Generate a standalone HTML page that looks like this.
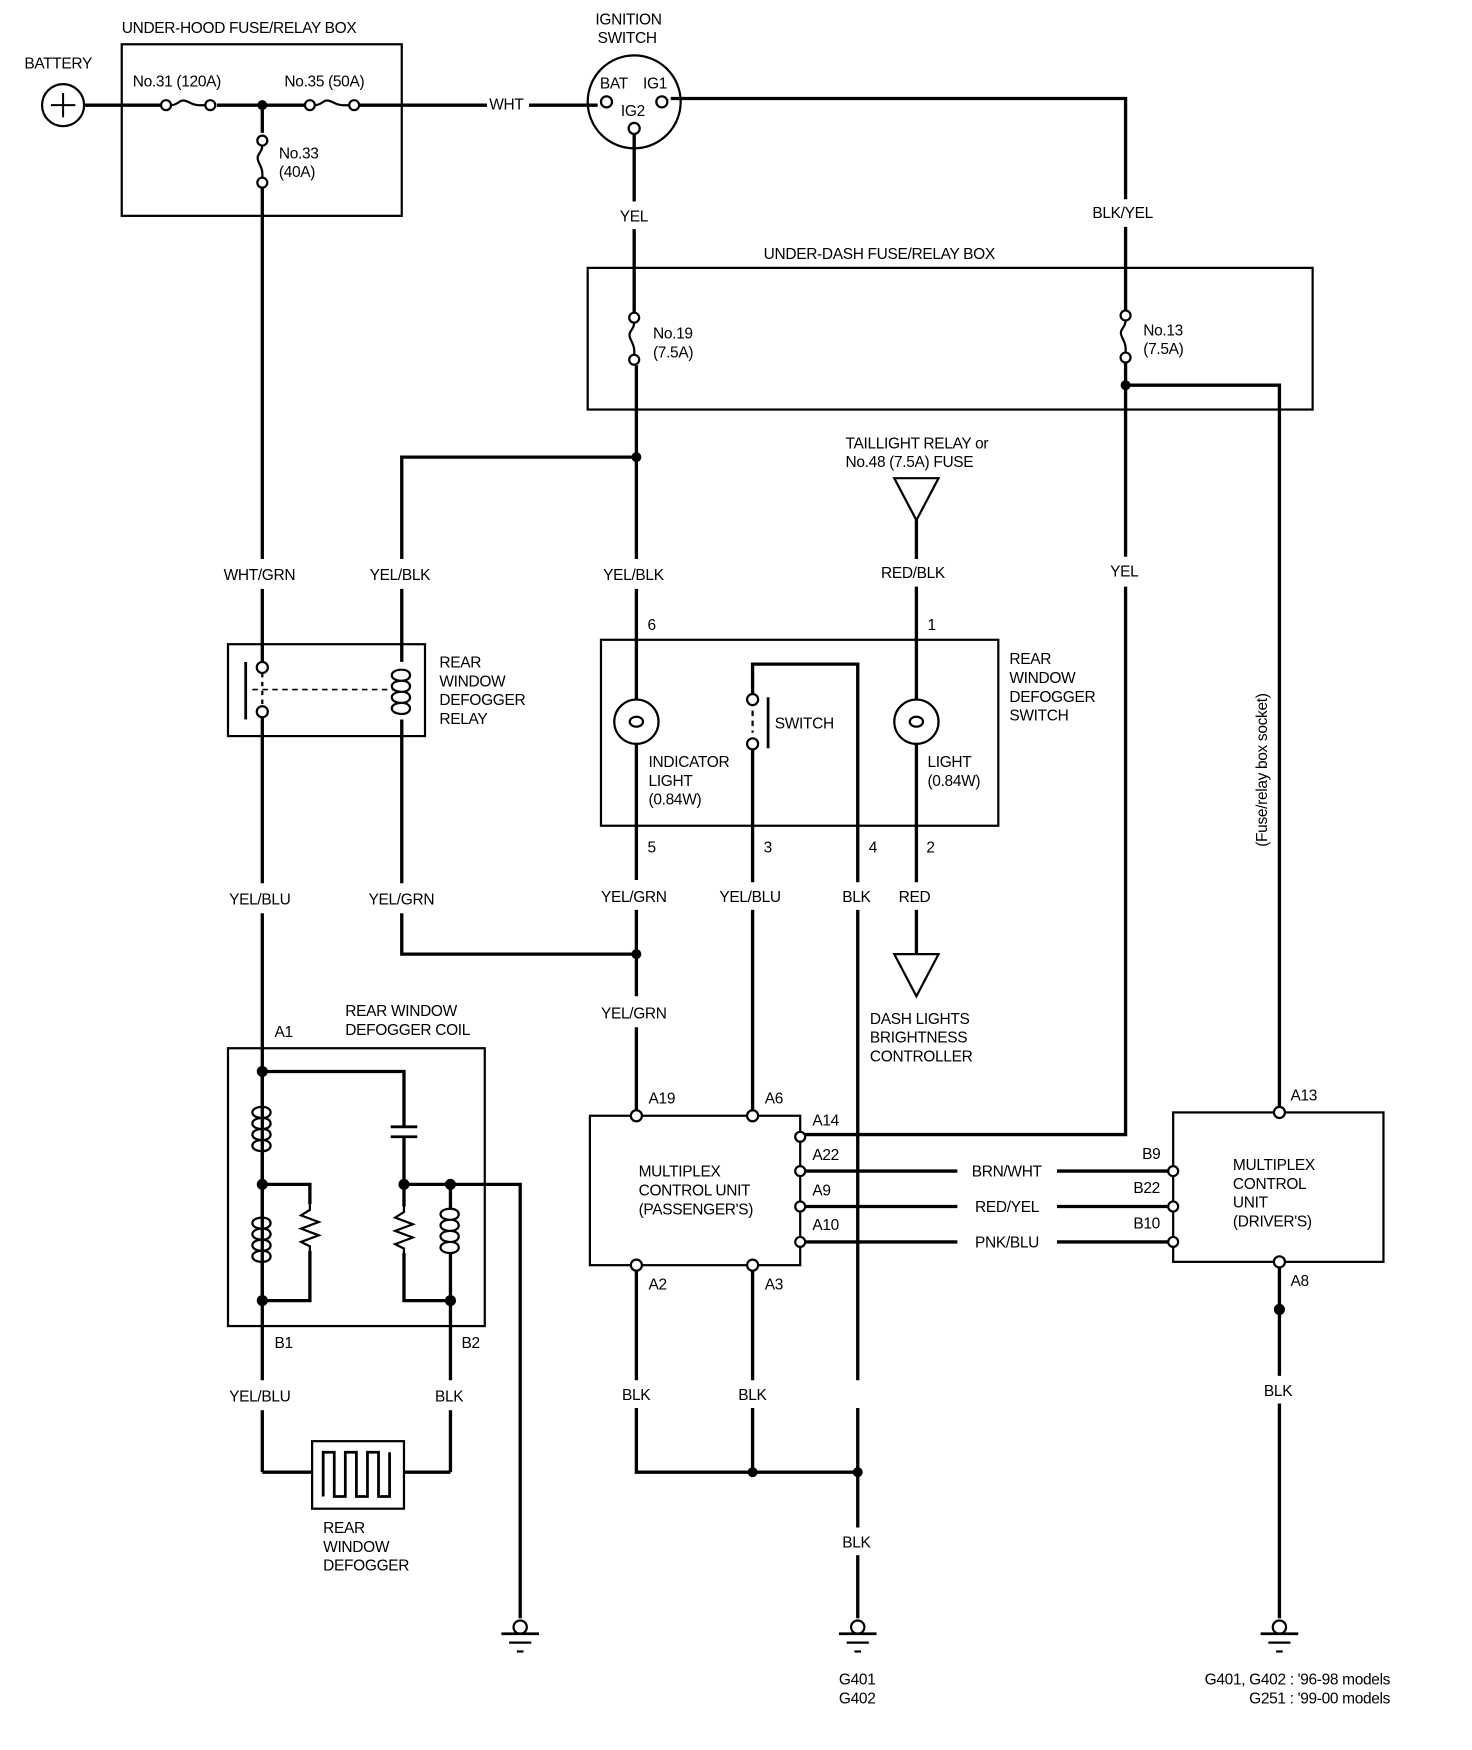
<!DOCTYPE html>
<html><head><meta charset="utf-8"><style>
html,body{margin:0;padding:0;background:#fff;width:1472px;height:1750px;overflow:hidden}
svg{display:block}
text{font-family:"Liberation Sans",Arial,sans-serif;font-size:14px;fill:#000;letter-spacing:-0.3px}
</style></head><body>
<svg width="1472" height="1750" viewBox="0 0 1330 1581" preserveAspectRatio="none" xmlns="http://www.w3.org/2000/svg">
<defs>
<g id="fuseH"><circle cx="0" cy="0" r="4.5" fill="#fff" stroke="#000" stroke-width="2"/><path d="M4.5,0 C12,0 12,-7 20,-3 C28,1 30,0 36,0" fill="none" stroke="#000" stroke-width="2"/><circle cx="40" cy="0" r="4.5" fill="#fff" stroke="#000" stroke-width="2"/></g>
<g id="fuseV"><circle cx="0" cy="0" r="4.5" fill="#fff" stroke="#000" stroke-width="2"/><path d="M0,4.5 C0,12 -7,12 -3,20 C1,28 0,30 0,34" fill="none" stroke="#000" stroke-width="2"/><circle cx="0" cy="38" r="4.5" fill="#fff" stroke="#000" stroke-width="2"/></g>
<g id="coil"><path d="M0,0 C-12,0 -12,10 0,10 C-12,10 -12,20 0,20 C-12,20 -12,30 0,30 C-12,30 -12,40 0,40" fill="none" stroke="#000" stroke-width="2"/><path d="M0,0 C10,0 10,10 0,10 M0,10 C10,10 10,20 0,20 M0,20 C10,20 10,30 0,30 M0,30 C10,30 10,40 0,40" fill="none" stroke="#000" stroke-width="2"/></g>
<g id="res"><path d="M0,0 L0,5 L-8,10 L8,16 L-8,22 L8,28 L-8,34 L0,38 L0,42" fill="none" stroke="#000" stroke-width="2"/></g>
<g id="gnd"><circle cx="0" cy="-6" r="6" fill="#fff" stroke="#000" stroke-width="2"/><line x1="-17" y1="0" x2="17" y2="0" stroke="#000" stroke-width="2.5"/><line x1="-10" y1="8" x2="10" y2="8" stroke="#000" stroke-width="2"/><line x1="-3" y1="16" x2="3" y2="16" stroke="#000" stroke-width="2"/></g>
</defs>
<g fill="none" stroke="#000" stroke-width="3">
<!-- top wire -->
<line x1="76" y1="95" x2="150" y2="95"/><line x1="196" y1="95" x2="278" y2="95"/><line x1="322" y1="95" x2="440" y2="95"/><line x1="478" y1="95" x2="540" y2="95"/>
<path d="M606,89 L1017,89 L1017,180"/><line x1="1017" y1="205" x2="1017" y2="283"/>
<line x1="237" y1="95" x2="237" y2="120"/><line x1="237" y1="168" x2="237" y2="505"/><line x1="237" y1="532" x2="237" y2="598"/>
<!-- YEL main -->
<line x1="573" y1="121" x2="573" y2="182"/><line x1="573" y1="207" x2="573" y2="285"/><line x1="575" y1="330" x2="575" y2="505"/><line x1="575" y1="532" x2="575" y2="632"/><line x1="575" y1="672" x2="575" y2="795"/><line x1="575" y1="822" x2="575" y2="900"/><line x1="575" y1="928" x2="575" y2="1003"/>
<!-- YEL/BLK to relay -->
<path d="M575,413 L363,413 L363,505"/><line x1="363" y1="532" x2="363" y2="598"/>
<!-- No13 down -->
<line x1="1017" y1="325" x2="1017" y2="503"/><path d="M1017,530 L1017,1025 L727,1025"/>
<path d="M1017,348 L1156,348 L1156,1000"/>
<!-- taillight -->
<line x1="828" y1="470" x2="828" y2="505"/><line x1="828" y1="530" x2="828" y2="632"/><line x1="828" y1="672" x2="828" y2="797"/><line x1="828" y1="822" x2="828" y2="862"/>
<!-- switch -->
<path d="M680,628 L680,600 L775,600 L775,797"/><line x1="775" y1="822" x2="775" y2="1247"/><line x1="775" y1="1272" x2="775" y2="1380"/><line x1="775" y1="1405" x2="775" y2="1462"/>
<line x1="680" y1="677" x2="680" y2="797"/><line x1="680" y1="822" x2="680" y2="1003"/>
<!-- relay outputs -->
<line x1="237" y1="648" x2="237" y2="798"/><line x1="237" y1="825" x2="237" y2="1247"/><line x1="237" y1="1274" x2="237" y2="1330"/>
<path d="M363,650 L363,798"/><path d="M363,825 L363,862 L575,862"/>
<!-- coil inner -->
<path d="M237,968 L365,968 L365,1018"/><path d="M365,1027 L365,1090"/>
<line x1="237" y1="968" x2="237" y2="1000"/><line x1="237" y1="1040" x2="237" y2="1100"/><line x1="237" y1="1140" x2="237" y2="1175"/>
<path d="M237,1070 L280,1070 L280,1088"/><path d="M280,1130 L280,1175 L237,1175"/>
<path d="M365,1070 L470,1070 L470,1462"/>
<path d="M407,1070 L407,1092"/><path d="M407,1132 L407,1247"/><line x1="407" y1="1274" x2="407" y2="1330"/>
<path d="M365,1132 L365,1175 L407,1175"/>
<line x1="237" y1="1330" x2="282" y2="1330"/><line x1="365" y1="1330" x2="407" y2="1330"/>
<!-- MCU lines -->
<line x1="727" y1="1058" x2="865" y2="1058"/><line x1="955" y1="1058" x2="1055" y2="1058"/>
<line x1="727" y1="1090" x2="865" y2="1090"/><line x1="955" y1="1090" x2="1055" y2="1090"/>
<line x1="727" y1="1122" x2="865" y2="1122"/><line x1="955" y1="1122" x2="1055" y2="1122"/>
<path d="M575,1148 L575,1247"/><path d="M575,1272 L575,1330 L775,1330"/>
<line x1="680" y1="1148" x2="680" y2="1247"/><line x1="680" y1="1272" x2="680" y2="1330"/>
<line x1="1156" y1="1145" x2="1156" y2="1243"/><line x1="1156" y1="1268" x2="1156" y2="1462"/>
</g>
<!-- boxes -->
<g fill="none" stroke="#000" stroke-width="2">
<rect x="110" y="40" width="253" height="155"/>
<rect x="531" y="242" width="655" height="128"/>
<rect x="543" y="578" width="359" height="168"/>
<rect x="206" y="582" width="178" height="83"/>
<rect x="206" y="947" width="232" height="251"/>
<rect x="533" y="1008" width="190" height="135"/>
<rect x="1060" y="1005" width="190" height="135"/>
<rect x="282" y="1302" width="83" height="61"/>
<path d="M292,1352 L292,1312 L302,1312 L302,1352 L312,1352 L312,1312 L322,1312 L322,1352 L332,1352 L332,1312 L342,1312 L342,1352 L352,1352 L352,1312" stroke-width="2.5"/>
<circle cx="57" cy="95" r="19"/><path d="M57,84 V106 M46,95 H68" stroke-width="1.8"/>
<circle cx="573" cy="92" r="42"/>
<circle cx="575" cy="652" r="20"/><ellipse cx="575" cy="652" rx="6" ry="4.5"/>
<circle cx="828" cy="652" r="20"/><ellipse cx="828" cy="652" rx="6" ry="4.5"/>
<path d="M808,432 L848,432 L828,470 Z"/><path d="M808,862 L848,862 L828,900 Z"/>
<line x1="694" y1="630" x2="694" y2="676" stroke-width="2.5"/>
<line x1="680" y1="642" x2="680" y2="662" stroke-dasharray="5,4"/>
<line x1="222" y1="598" x2="222" y2="650" stroke-width="2.5"/>
<line x1="228" y1="623" x2="357" y2="623" stroke-dasharray="5,4" stroke-width="1.5"/>
<line x1="237" y1="608" x2="237" y2="638" stroke-dasharray="4,4"/>
<line x1="353" y1="1018" x2="377" y2="1018" stroke-width="2.5"/><line x1="353" y1="1027" x2="377" y2="1027" stroke-width="2.5"/>
</g>
<g fill="#fff" stroke="#000" stroke-width="2">
<circle cx="548" cy="92" r="5"/><circle cx="598" cy="92" r="5"/><circle cx="573" cy="116" r="5"/>
<circle cx="680" cy="632" r="5"/><circle cx="680" cy="672" r="5"/>
<circle cx="237" cy="603" r="5"/><circle cx="237" cy="643" r="5"/>
<circle cx="575" cy="1008" r="5"/><circle cx="680" cy="1008" r="5"/><circle cx="1156" cy="1005" r="5"/>
<circle cx="723" cy="1027" r="4.5"/><circle cx="723" cy="1058" r="4.5"/><circle cx="723" cy="1090" r="4.5"/><circle cx="723" cy="1122" r="4.5"/>
<circle cx="1060" cy="1058" r="4.5"/><circle cx="1060" cy="1090" r="4.5"/><circle cx="1060" cy="1122" r="4.5"/>
<circle cx="575" cy="1143" r="5"/><circle cx="680" cy="1143" r="5"/><circle cx="1156" cy="1140" r="5"/>
</g>
<use href="#fuseH" x="150" y="95"/><use href="#fuseH" x="280" y="95"/>
<use href="#fuseV" x="237" y="127"/><use href="#fuseV" x="573" y="287"/><use href="#fuseV" x="1017" y="285"/>
<use href="#coil" x="363" y="605"/>
<use href="#coil" x="237" y="1000"/><use href="#coil" x="237" y="1100"/><use href="#coil" x="407" y="1092"/>
<use href="#res" x="280" y="1088"/><use href="#res" x="365" y="1090"/>
<use href="#gnd" x="470" y="1476"/><use href="#gnd" x="775" y="1476"/><use href="#gnd" x="1156" y="1476"/>
<g fill="#000">
<circle cx="237" cy="95" r="4.5"/><circle cx="575" cy="413" r="4.5"/><circle cx="1017" cy="348" r="4.5"/>
<circle cx="575" cy="862" r="4.5"/><circle cx="237" cy="968" r="5"/><circle cx="237" cy="1070" r="5"/><circle cx="237" cy="1175" r="5"/>
<circle cx="365" cy="1070" r="5"/><circle cx="407" cy="1070" r="5"/><circle cx="407" cy="1175" r="5"/>
<circle cx="680" cy="1330" r="4.5"/><circle cx="775" cy="1330" r="4.5"/><circle cx="1156" cy="1183" r="5"/>
</g>
<g>
<text x="110" y="30">UNDER-HOOD FUSE/RELAY BOX</text>
<text x="22" y="62">BATTERY</text>
<text x="120" y="78">No.31 (120A)</text>
<text x="257" y="78">No.35 (50A)</text>
<text x="252" y="143">No.33</text><text x="252" y="160">(40A)</text>
<text x="442" y="99">WHT</text>
<text x="538" y="22">IGNITION</text><text x="540" y="39">SWITCH</text>
<text x="542" y="80" font-size="13">BAT</text><text x="581" y="80" font-size="13">IG1</text><text x="561" y="105" font-size="13">IG2</text>
<text x="560" y="200">YEL</text>
<text x="987" y="197">BLK/YEL</text>
<text x="690" y="234">UNDER-DASH FUSE/RELAY BOX</text>
<text x="590" y="306">No.19</text><text x="590" y="323">(7.5A)</text>
<text x="1033" y="303">No.13</text><text x="1033" y="320">(7.5A)</text>
<text x="764" y="405">TAILLIGHT RELAY or</text><text x="764" y="422">No.48 (7.5A) FUSE</text>
<text x="202" y="524">WHT/GRN</text><text x="334" y="524">YEL/BLK</text><text x="545" y="524">YEL/BLK</text>
<text x="796" y="522">RED/BLK</text><text x="1003" y="521">YEL</text>
<text x="585" y="569">6</text><text x="838" y="569">1</text>
<text x="397" y="603">REAR</text><text x="397" y="620">WINDOW</text><text x="397" y="637">DEFOGGER</text><text x="397" y="654">RELAY</text>
<text x="912" y="600">REAR</text><text x="912" y="617">WINDOW</text><text x="912" y="634">DEFOGGER</text><text x="912" y="651">SWITCH</text>
<text x="700" y="658">SWITCH</text>
<text x="586" y="693">INDICATOR</text><text x="586" y="710">LIGHT</text><text x="586" y="727">(0.84W)</text>
<text x="838" y="693">LIGHT</text><text x="838" y="710">(0.84W)</text>
<text x="585" y="770">5</text><text x="690" y="770">3</text><text x="785" y="770">4</text><text x="837" y="770">2</text>
<text x="207" y="817">YEL/BLU</text><text x="333" y="817">YEL/GRN</text><text x="543" y="815">YEL/GRN</text><text x="650" y="815">YEL/BLU</text>
<text x="761" y="815">BLK</text><text x="812" y="815">RED</text>
<text x="543" y="920">YEL/GRN</text>
<text x="786" y="925">DASH LIGHTS</text><text x="786" y="942">BRIGHTNESS</text><text x="786" y="959">CONTROLLER</text>
<text x="312" y="918">REAR WINDOW</text><text x="312" y="935">DEFOGGER COIL</text>
<text x="248" y="937">A1</text>
<text x="586" y="997">A19</text><text x="691" y="997">A6</text><text x="1166" y="994">A13</text>
<text x="734" y="1017">A14</text><text x="734" y="1048">A22</text><text x="734" y="1080">A9</text><text x="734" y="1111">A10</text>
<text x="577" y="1063">MULTIPLEX</text><text x="577" y="1080">CONTROL UNIT</text><text x="577" y="1097">(PASSENGER'S)</text>
<text x="878" y="1063">BRN/WHT</text><text x="881" y="1095">RED/YEL</text><text x="881" y="1127">PNK/BLU</text>
<text x="1032" y="1047">B9</text><text x="1024" y="1078">B22</text><text x="1024" y="1110">B10</text>
<text x="1114" y="1057">MULTIPLEX</text><text x="1114" y="1074">CONTROL</text><text x="1114" y="1091">UNIT</text><text x="1114" y="1108">(DRIVER'S)</text>
<text x="586" y="1165">A2</text><text x="691" y="1165">A3</text><text x="1166" y="1162">A8</text>
<text x="248" y="1218">B1</text><text x="417" y="1218">B2</text>
<text x="207" y="1266">YEL/BLU</text><text x="393" y="1266">BLK</text>
<text x="562" y="1265">BLK</text><text x="667" y="1265">BLK</text><text x="1142" y="1261">BLK</text>
<text x="292" y="1385">REAR</text><text x="292" y="1402">WINDOW</text><text x="292" y="1419">DEFOGGER</text>
<text x="761" y="1398">BLK</text>
<text x="758" y="1522">G401</text><text x="758" y="1539">G402</text>
<text x="1256" y="1522" text-anchor="end">G401, G402 : '96-98 models</text>
<text x="1256" y="1539" text-anchor="end">G251 : '99-00 models</text>
<text transform="translate(1145,765) rotate(-90)">(Fuse/relay box socket)</text>
</g>
</svg>
</body></html>
